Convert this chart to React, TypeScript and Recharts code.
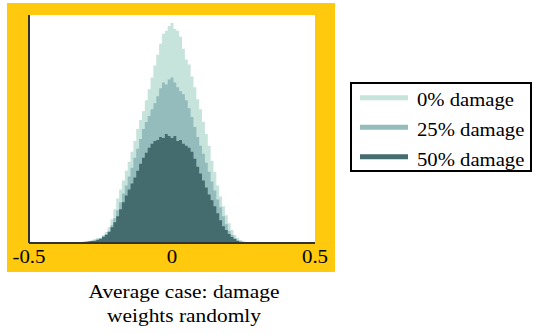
import React from 'react';
import { AreaChart, Area, XAxis, YAxis } from 'recharts';

const xBins = [
  -0.34, -0.33, -0.32, -0.31, -0.3, -0.29, -0.28, -0.27, -0.26, -0.25, -0.24, -0.23, -0.22, -0.21, -0.2, -0.19, -0.18,
  -0.17, -0.16, -0.15, -0.14, -0.13, -0.12, -0.11, -0.1, -0.09, -0.08, -0.07, -0.06, -0.05, -0.04, -0.03, -0.02, -0.01,
  0, 0.01, 0.02, 0.03, 0.04, 0.05, 0.06, 0.07, 0.08, 0.09, 0.1, 0.11, 0.12, 0.13, 0.14, 0.15, 0.16, 0.17, 0.18, 0.19,
  0.2, 0.21, 0.22, 0.23, 0.24, 0.25, 0.26, 0.27, 0.28,
];

const damage0 = [
  0.5, 1, 1, 1.5, 2, 2, 3, 4, 5, 5, 8, 11, 16, 24, 34, 45, 54,
  63, 73, 82, 92, 103, 115, 124, 133, 144, 155, 167, 179, 190, 201, 211, 214, 219,
  222, 216, 214, 208, 196, 185, 180, 168, 157, 145, 135, 122, 110, 98, 83, 72, 58, 47, 37, 28,
  20, 13, 8, 5, 3, 2, 1, 0.5, 0,
];

const damage25 = [
  0.5, 0.5, 1, 1, 1.5, 2, 2, 3, 4, 5, 7, 9, 12, 18, 25, 33, 41,
  50, 58, 67, 76, 86, 95, 105, 115, 122, 128, 135, 141, 148, 156, 162, 160, 165,
  167, 162, 157, 153, 150, 144, 136, 127, 117, 107, 98, 90, 81, 72, 62, 53, 44, 36, 27, 19,
  12, 8, 5, 3, 2, 1, 0.5, 0, 0,
];

const damage50 = [
  0.3, 0.5, 0.5, 1, 1, 1.5, 2, 2, 3, 4, 6, 8, 11, 16, 21, 27, 34,
  41, 48, 54, 60, 66, 73, 80, 86, 91, 96, 100, 103, 104, 107, 106, 110, 108,
  106, 108, 103, 104, 100, 98, 96, 92, 85, 77, 70, 63, 56, 49, 43, 37, 30, 23, 17, 13,
  9, 6, 4, 2, 1, 0.5, 0, 0, 0,
];

const seriesNames = ['0% damage', '25% damage', '50% damage'];
const seriesKeys = ['d0', 'd25', 'd50'];
const seriesColors = ['#c6e3dc', '#94bcbc', '#446b6e'];
const xTicks = [-0.5, 0, 0.5];
const xTickLabels = ['-0.5', '0', '0.5'];
const captionLines = ['Average case: damage', 'weights randomly'];

const data = xBins.map((x, i) => ({ x, d0: damage0[i], d25: damage25[i], d50: damage50[i] }));

const FONT = "'Liberation Serif', 'Times New Roman', 'DejaVu Serif', serif";
const textStyle = { fontFamily: FONT };

const Tick = (props: any) => {
  const { x, y, payload } = props;
  const idx = xTicks.indexOf(payload.value);
  const label = idx >= 0 ? xTickLabels[idx] : String(payload.value);
  return (
    <g transform={`translate(${x},243)`}>
      <text
        x={0}
        y={20}
        textAnchor="middle"
        style={textStyle}
        fontSize={19}
        fill="#000"
        transform="scale(1.1,1)"
      >
        {label}
      </text>
    </g>
  );
};

export default function App() {
  return (
    <div style={{ position: 'absolute', left: 0, top: 0, width: 533, height: 334, background: '#fff', overflow: 'hidden' }}>
      <div style={{ position: 'absolute', left: 7, top: 3, width: 328, height: 269, background: '#ffc90e' }} />
      <div style={{ position: 'absolute', left: 29, top: 15, width: 286, height: 228, background: '#fff' }} />
      <div style={{ position: 'absolute', left: 0, top: 0 }}>
        <AreaChart width={340} height={275} data={data} margin={{ top: 15, right: 25, bottom: 2, left: 0 }}>
          <XAxis
            type="number"
            dataKey="x"
            domain={[-0.5, 0.5]}
            ticks={xTicks}
            interval={0}
            height={30}
            tickLine={false}
            tickSize={0}
            tickMargin={0}
            axisLine={{ stroke: '#333', strokeWidth: 2 }}
            tick={<Tick />}
            allowDataOverflow
          />
          <YAxis
            type="number"
            domain={[0, 230]}
            width={29}
            tick={false}
            tickLine={false}
            axisLine={{ stroke: '#333', strokeWidth: 2 }}
            allowDataOverflow
          />
          {seriesKeys.map((k, i) => (
            <Area
              key={k}
              dataKey={k}
              type="step"
              stroke="none"
              fill={seriesColors[i]}
              fillOpacity={1}
              isAnimationActive={false}
              dot={false}
              activeDot={false}
            />
          ))}
        </AreaChart>
      </div>
      <svg style={{ position: 'absolute', left: 350, top: 82 }} width={182} height={90}>
        <rect x={1} y={1} width={180} height={88} fill="#fff" stroke="#000" strokeWidth={2} />
        {seriesNames.map((n, i) => (
          <g key={n}>
            <line x1={10} x2={58} y1={15.7 + i * 29.5} y2={15.7 + i * 29.5} stroke={seriesColors[i]} strokeWidth={5} />
            <text
              x={0}
              y={0}
              style={textStyle}
              fontSize={18}
              fill="#000"
              transform={`translate(67,${23.7 + i * 30}) scale(1.15,1)`}
            >
              {n}
            </text>
          </g>
        ))}
      </svg>
      <svg style={{ position: 'absolute', left: 0, top: 270 }} width={340} height={64}>
        {captionLines.map((t, i) => (
          <text
            key={t}
            x={0}
            y={0}
            textAnchor="middle"
            style={textStyle}
            fontSize={18}
            fill="#000"
            transform={`translate(184,${28 + i * 24}) scale(1.19,1)`}
          >
            {t}
          </text>
        ))}
      </svg>
    </div>
  );
}
